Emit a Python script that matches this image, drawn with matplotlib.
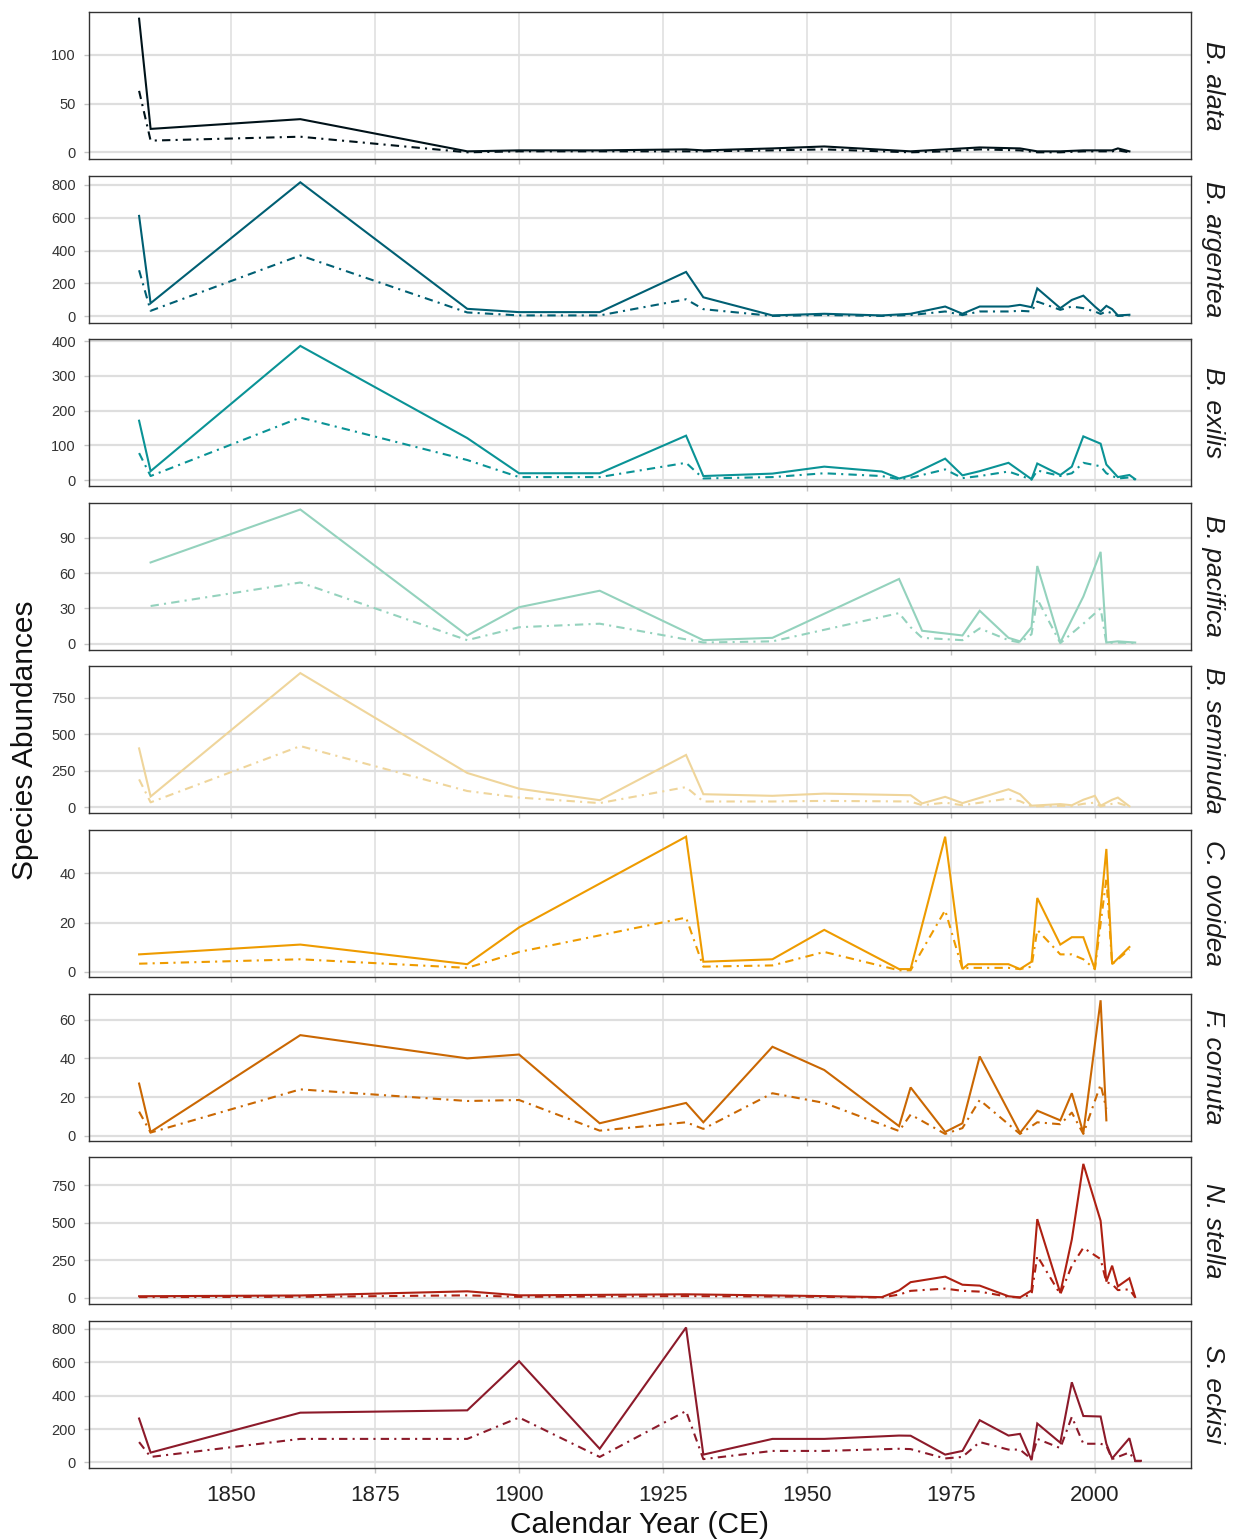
import numpy as np
import matplotlib
matplotlib.use("Agg")
import matplotlib.pyplot as plt

plt.rcParams['font.family'] = ['Liberation Sans', 'DejaVu Sans']

species = ["B. alata", "B. argentea", "B. exilis", "B. pacifica", "B. seminuda",
           "C. ovoidea", "F. cornuta", "N. stella", "S. eckisi"]
colors = ["#001219", "#005f73", "#0a9396", "#94d2bd", "#efd59b",
          "#ee9b00", "#ca6702", "#ae2012", "#8c1a2a"]

# sample years and abundances (solid = total, dotdash = scaled) per species
alata_yr = [1834, 1836, 1862, 1891, 1900, 1914, 1929, 1932, 1944, 1953, 1968,
            1974, 1980, 1987, 1990, 1994, 1998, 2001, 2003, 2004, 2006]
alata_tot = [137, 24, 34, 1, 2, 2, 3, 2, 4, 6, 1, 3, 5, 4, 1, 1, 2, 2, 2, 4, 1]
alata_sc = [63, 12, 16, 0, 1, 1, 1, 1, 2, 3, 0, 1, 3, 2, 0, 0, 1, 1, 1, 2, 0]

argentea_yr = [1834, 1836, 1862, 1891, 1900, 1914, 1929, 1932, 1944, 1953, 1963,
               1968, 1974, 1977, 1980, 1985, 1987, 1989, 1990, 1994, 1996, 1998,
               2000, 2001, 2002, 2003, 2004, 2006]
argentea_tot = [610, 80, 814, 46, 26, 26, 270, 116, 6, 16, 6, 16, 60, 16, 60, 60,
                70, 56, 170, 50, 100, 126, 60, 30, 64, 44, 6, 10]
argentea_sc = [280, 34, 370, 24, 6, 6, 104, 44, 3, 8, 3, 8, 30, 8, 30, 30, 34,
               30, 90, 40, 60, 50, 30, 15, 30, 20, 3, 5]

exilis_yr = [1834, 1836, 1862, 1891, 1900, 1914, 1929, 1932, 1944, 1953, 1963,
             1966, 1968, 1974, 1977, 1980, 1985, 1989, 1990, 1994, 1996, 1998,
             2001, 2002, 2004, 2006, 2007]
exilis_tot = [171, 26, 386, 121, 20, 20, 128, 12, 19, 39, 25, 5, 14, 62, 14, 26,
              50, 3, 48, 15, 39, 126, 105, 45, 9, 15, 3]
exilis_sc = [78, 12, 180, 58, 9, 9, 50, 5, 9, 20, 12, 3, 7, 31, 6, 12, 25, 2, 28,
             12, 20, 50, 40, 20, 5, 8, 2]

pacifica_yr = [1836, 1862, 1891, 1900, 1914, 1932, 1944, 1966, 1968, 1970, 1977,
               1980, 1985, 1987, 1989, 1990, 1994, 1998, 2001, 2002, 2004, 2007]
pacifica_tot = [69, 114, 7, 31, 45, 3, 5, 55, 33, 11, 7, 28, 5, 2, 14, 66, 1, 40,
                78, 1, 2, 1]
pacifica_sc = [32, 52, 3, 14, 17, 1, 2, 26, 14, 5, 3, 13, 3, 1, 8, 38, 0.5, 17,
               30, 0.5, 1, 0.5]

seminuda_yr = [1834, 1836, 1862, 1891, 1900, 1914, 1929, 1932, 1944, 1953, 1968,
               1970, 1974, 1977, 1985, 1987, 1989, 1994, 1996, 1998, 2000, 2001,
               2003, 2004, 2006]
seminuda_tot = [403, 72, 921, 234, 126, 47, 358, 88, 77, 92, 81, 25, 70, 27, 122,
                88, 9, 20, 12, 50, 77, 9, 50, 65, 5]
seminuda_sc = [190, 32, 419, 110, 65, 27, 137, 38, 38, 42, 38, 12, 30, 12, 58, 40,
               4, 8, 6, 22, 30, 4, 22, 28, 2]

ovoidea_yr = [1834, 1862, 1891, 1900, 1929, 1932, 1944, 1953, 1966, 1968, 1974,
              1977, 1978, 1985, 1987, 1989, 1990, 1994, 1996, 1998, 2000, 2002,
              2003, 2006]
ovoidea_tot = [7, 11, 3, 18, 55, 4, 5, 17, 1, 1, 55, 1, 3, 3, 1, 4, 30, 11, 14,
               14, 1, 50, 3, 10]
ovoidea_sc = [3.2, 5, 1.5, 8, 22, 2, 2.5, 8, 0.5, 0.5, 25, 1, 1.5, 1.5, 1, 2, 17,
              7, 7, 5, 1, 38, 3, 9]

cornuta_yr = [1834, 1836, 1862, 1891, 1900, 1914, 1929, 1932, 1944, 1953, 1966,
              1968, 1974, 1977, 1980, 1987, 1990, 1994, 1996, 1998, 2001, 2002]
cornuta_tot = [27, 2, 52, 40, 42, 6.5, 17, 7, 46, 34, 5, 25, 2, 6.5, 41, 1.5, 13,
               8, 22, 1.5, 70, 8]
cornuta_sc = [12.5, 1.7, 24, 18, 18.5, 2.7, 7, 3.6, 22, 17, 2.5, 11, 1, 4, 18.5,
              1, 7, 6, 12, 1, 26.5, 14]

stella_yr = [1834, 1862, 1891, 1900, 1929, 1953, 1963, 1966, 1968, 1974, 1977,
             1980, 1985, 1987, 1989, 1990, 1994, 1996, 1998, 2001, 2002, 2003,
             2004, 2006, 2007]
stella_tot = [9, 14, 42, 15, 22, 10, 3, 48, 103, 140, 86, 80, 9, 1, 48, 524, 31,
              388, 893, 513, 107, 213, 75, 129, 4]
stella_sc = [3, 5, 15, 5, 10, 5, 1, 20, 45, 60, 45, 40, 5, 0.5, 20, 278, 22, 213,
             333, 257, 103, 90, 50, 55, 2]

eckisi_yr = [1834, 1836, 1862, 1891, 1900, 1914, 1929, 1932, 1944, 1953, 1966,
             1968, 1974, 1977, 1980, 1985, 1987, 1989, 1990, 1994, 1996, 1998,
             2001, 2002, 2003, 2006, 2007, 2008]
eckisi_tot = [263, 59, 298, 312, 606, 82, 808, 47, 141, 141, 161, 160, 47, 69, 253,
              161, 171, 14, 233, 118, 480, 278, 275, 112, 24, 145, 10, 10]
eckisi_sc = [122, 33, 141, 141, 269, 33, 308, 20, 69, 69, 82, 80, 24, 33, 122, 77,
             77, 20, 141, 86, 273, 112, 112, 100, 20, 60, 8, 8]

years = [alata_yr, argentea_yr, exilis_yr, pacifica_yr, seminuda_yr,
         ovoidea_yr, cornuta_yr, stella_yr, eckisi_yr]
totals = [alata_tot, argentea_tot, exilis_tot, pacifica_tot, seminuda_tot,
          ovoidea_tot, cornuta_tot, stella_tot, eckisi_tot]
scaled = [alata_sc, argentea_sc, exilis_sc, pacifica_sc, seminuda_sc,
          ovoidea_sc, cornuta_sc, stella_sc, eckisi_sc]

yticks = [[0, 50, 100], [0, 200, 400, 600, 800], [0, 100, 200, 300, 400],
          [0, 30, 60, 90], [0, 250, 500, 750], [0, 20, 40], [0, 20, 40, 60],
          [0, 250, 500, 750], [0, 200, 400, 600, 800]]
xticks = [1850, 1875, 1900, 1925, 1950, 1975, 2000]

W, H = 1235, 1540
fig = plt.figure(figsize=(W / 100, H / 100), dpi=100)

# shared x range with ggplot-style 5% expansion
all_x = np.concatenate([np.array(y, float) for y in years])
xpad = 0.05 * (all_x.max() - all_x.min())
xlim = (all_x.min() - xpad, all_x.max() + xpad)

left, right = 89, 1191
top0, step, ph = 12, 163.6, 147
dotdash = (0, (4, 2.5, 1, 2.5))

for i, name in enumerate(species):
    top = top0 + i * step
    ax = fig.add_axes([left / W, 1 - (top + ph) / H, (right - left) / W, ph / H])
    x = np.array(years[i], float)
    a = np.array(totals[i], float)
    b = np.array(scaled[i], float)
    ax.plot(x, a, color=colors[i], lw=1.5, solid_joinstyle='miter', zorder=3)
    ax.plot(x, b, color=colors[i], lw=1.5, linestyle=dotdash, zorder=3)

    lo = min(a.min(), b.min())
    hi = max(a.max(), b.max())
    pad = 0.05 * (hi - lo)
    ax.set_ylim(lo - pad, hi + pad)
    ax.set_xlim(*xlim)

    ax.set_yticks(yticks[i])
    ax.set_xticks(xticks)
    for t in yticks[i]:
        ax.axhline(t, color="#dedede", lw=1.6, zorder=0)
    for t in xticks:
        ax.axvline(t, color="#dedede", lw=1.1, zorder=0)

    ax.tick_params(axis='both', length=3.5, width=1, color="#c4c4c4")
    ax.tick_params(axis='y', labelsize=10.5, labelcolor="#333333", pad=6)
    if i < len(species) - 1:
        ax.tick_params(axis='x', labelbottom=False)
    else:
        ax.tick_params(axis='x', labelsize=16, labelcolor="#222222", pad=9)

    for s in ax.spines.values():
        s.set_color("#333333")
        s.set_linewidth(1.0)

    ax.text(1.0 + 22 / (right - left), 0.5, name, transform=ax.transAxes,
            rotation=-90, ha='center', va='center', fontsize=19,
            style='italic', color="#1a1a1a")

fig.text(640 / W, 1 - 1525 / H, "Calendar Year (CE)", ha='center', va='center',
         fontsize=21.5, color="#111111")
fig.text(25 / W, 1 - 740 / H, "Species Abundances", ha='center', va='center',
         rotation=90, fontsize=21.5, color="#111111")

fig.savefig("out.png", dpi=100)
